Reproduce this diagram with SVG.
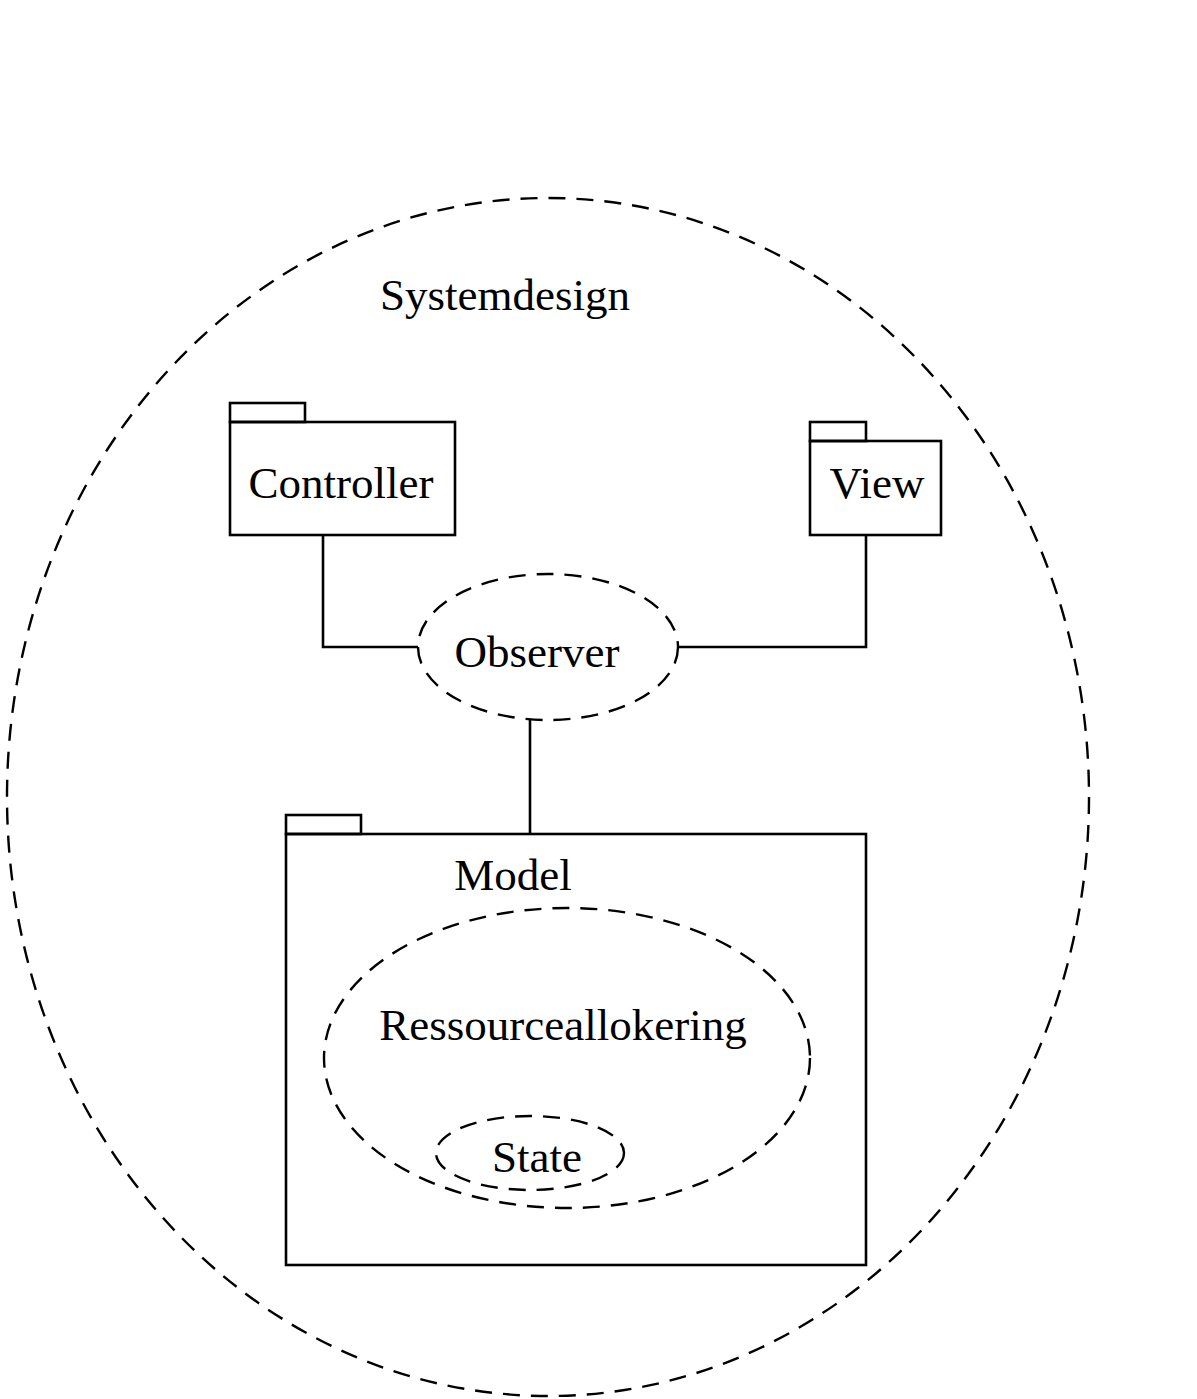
<svg xmlns="http://www.w3.org/2000/svg" width="1197" height="1399" viewBox="0 0 1197 1399">
<style>
.s{fill:none;stroke:#000;stroke-width:2.6}
.d{fill:none;stroke:#000;stroke-width:2.4;stroke-dasharray:17 11}
.t{font-family:"Liberation Serif","Times New Roman",serif;font-size:45px;fill:#000}
</style>
<rect width="1197" height="1399" fill="#fff"/>
<g id="systemdesign">
<ellipse class="d" cx="548" cy="797" rx="541" ry="599"/>
<text class="t" x="380" y="310">Systemdesign</text>
</g>
<g id="connectors">
<polyline class="s" points="323,535 323,647 418,647"/>
<polyline class="s" points="866,535 866,647 679,647"/>
<line class="s" x1="530" y1="720" x2="530" y2="834"/>
</g>
<g id="controller">
<rect class="s" x="230" y="403" width="75" height="19"/>
<rect class="s" x="230" y="422" width="225" height="113"/>
<text class="t" x="341" y="498" text-anchor="middle">Controller</text>
</g>
<g id="view">
<rect class="s" x="810" y="422" width="56" height="19"/>
<rect class="s" x="810" y="441" width="131" height="94"/>
<text class="t" x="877" y="498" text-anchor="middle">View</text>
</g>
<g id="observer">
<ellipse class="d" cx="548" cy="647" rx="130" ry="73"/>
<text class="t" x="537" y="667" text-anchor="middle">Observer</text>
</g>
<g id="model">
<rect class="s" x="286" y="815" width="75" height="19"/>
<rect class="s" x="286" y="834" width="580" height="431"/>
<text class="t" x="513" y="890" text-anchor="middle">Model</text>
</g>
<g id="ressourceallokering">
<ellipse class="d" cx="567" cy="1058" rx="243" ry="150"/>
<text class="t" x="563" y="1040" text-anchor="middle">Ressourceallokering</text>
</g>
<g id="state">
<ellipse class="d" cx="530" cy="1153" rx="94" ry="37"/>
<text class="t" x="537" y="1172" text-anchor="middle">State</text>
</g>
</svg>
